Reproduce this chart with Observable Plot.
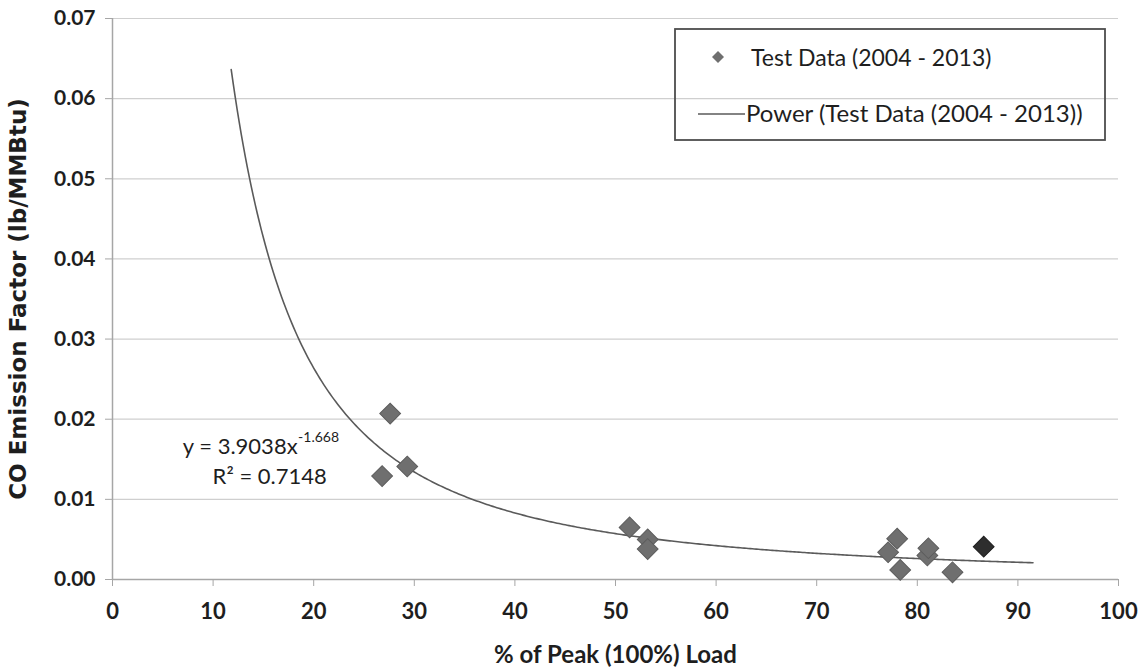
<!DOCTYPE html>
<html>
<head>
<meta charset="utf-8">
<script src="https://cdn.jsdelivr.net/npm/d3@7"></script>
<script src="https://cdn.jsdelivr.net/npm/@observablehq/plot@0.6"></script>
<style>
  body { margin: 0; background: #fff; }
  #chart { position: relative; width: 1146px; height: 671px; }
  svg { font-family: Lato, "Open Sans", sans-serif; }
</style>
</head>
<body>
<div id="chart"></div>
<script>
// Test data: CO emission factor versus percent of peak load
const loadPct  = [26.8, 27.6, 29.3, 51.4, 53.2, 53.2, 77.1, 78.0, 78.3, 81.0, 81.1, 83.5, 86.6];
const emission = [0.0129, 0.0207, 0.0141, 0.0065, 0.0050, 0.0038, 0.0034, 0.0051, 0.0012, 0.0030, 0.0039, 0.0009, 0.0041];
const pointTone = ["test", "test", "test", "test", "test", "test", "test", "test", "test", "test", "test", "test", "latest"];

// Power trendline y = a·x^b as reported on the chart
const fitCoef = 3.9038;
const fitExp = -1.668;
const fitR2 = 0.7148;
const fitRange = [11.8, 91.5];

const xTicks = [0, 10, 20, 30, 40, 50, 60, 70, 80, 90, 100];
const yTicks = [0, 0.01, 0.02, 0.03, 0.04, 0.05, 0.06, 0.07];

const seriesName = "Test Data (2004 - 2013)";
const trendName = "Power (Test Data (2004 - 2013))";
const xTitle = "% of Peak (100%) Load";
const yTitle = "CO Emission Factor (lb/MMBtu)";

const points = loadPct.map((x, i) => ({x, y: emission[i], tone: pointTone[i]}));
const trend = d3.range(fitRange[0], fitRange[1] + 1e-9, 0.2)
  .concat([fitRange[1]])
  .map(x => ({x, y: fitCoef * Math.pow(x, fitExp)}));

const axisGray = "#a6a6a6";
const textColor = "#1e1e1e";
const narrow = "'Liberation Sans Narrow', 'Arial Narrow', Lato, sans-serif";

const plot = Plot.plot({
  width: 1146,
  height: 671,
  marginLeft: 112,
  marginRight: 28,
  marginTop: 18,
  marginBottom: 92,
  style: {fontFamily: "Lato, 'Open Sans', sans-serif", background: "#fff"},
  x: {domain: [0, 100]},
  y: {domain: [0, 0.07]},
  marks: [
    Plot.gridY(yTicks, {stroke: "#cfcfcf", strokeOpacity: 1, strokeWidth: 1.2}),
    Plot.ruleX([0], {stroke: axisGray, strokeWidth: 1.5}),
    Plot.ruleY([0], {stroke: axisGray, strokeWidth: 1.5}),
    Plot.axisX({
      ticks: xTicks, tickSize: 7, tickPadding: 17, stroke: axisGray,
      fill: textColor, fontSize: 22, fontWeight: "bold", label: null
    }),
    Plot.axisY({
      ticks: yTicks, tickFormat: ".2f", tickSize: 7, tickPadding: 10, stroke: axisGray,
      fill: textColor, fontSize: 21, fontWeight: "bold", label: null
    }),
    // Axis titles
    Plot.text([xTitle], {
      text: d => d, frameAnchor: "bottom", dy: 76, lineAnchor: "middle",
      fontSize: 24, fontWeight: "bold", fontFamily: narrow, fill: textColor
    }),
    Plot.text([yTitle], {
      text: d => d, frameAnchor: "left", dx: -94, rotate: -90,
      textAnchor: "middle", lineAnchor: "middle",
      fontSize: 23, fontWeight: "bold", fontFamily: "'DejaVu Sans', sans-serif", fill: textColor
    }),
    Plot.line(trend, {x: "x", y: "y", stroke: "#5a5a5a", strokeWidth: 1.6}),
    Plot.dot(points, {
      x: "x", y: "y", symbol: "square", rotate: 45, r: 8.3,
      fill: d => d.tone === "latest" ? "#2e2e2e" : "#6f6f6f",
      stroke: d => d.tone === "latest" ? "#1f1f1f" : "#5c5c5c", strokeWidth: 1
    }),
    // Trendline equation and R² annotation
    Plot.text([{x: 18.4, y: 0.0166}], {
      x: "x", y: "y", text: () => `y = ${fitCoef}x`, textAnchor: "end",
      fontSize: 22, fill: textColor
    }),
    Plot.text([{x: 18.4, y: 0.0166}], {
      x: "x", y: "y", text: () => `${fitExp}`, textAnchor: "start",
      dy: -9, dx: 0.5, fontSize: 14, fill: textColor
    }),
    Plot.text([{x: 21.3, y: 0.01285}], {
      x: "x", y: "y", text: () => `R² = ${fitR2}`, textAnchor: "end",
      fontSize: 22, fill: textColor
    })
  ]
});

document.getElementById("chart").appendChild(plot);

// Legend box inside the plot area (transparent, gridlines show through)
const svg = d3.select(plot);
const lg = svg.append("g")
  .attr("font-family", "Lato, 'Open Sans', sans-serif")
  .attr("text-anchor", "start")
  .attr("fill", textColor);
lg.append("rect")
  .attr("x", 675).attr("y", 29).attr("width", 430).attr("height", 111)
  .attr("fill", "none").attr("stroke", "#4d4d4d").attr("stroke-width", 1.8);
lg.append("path")
  .attr("d", d3.symbol(d3.symbolSquare, 72)())
  .attr("transform", "translate(718,57) rotate(45)")
  .attr("fill", "#6f6f6f");
lg.append("text")
  .attr("x", 751).attr("y", 58).attr("dy", "0.35em")
  .attr("font-size", 23).text(seriesName);
lg.append("line")
  .attr("x1", 698).attr("x2", 745).attr("y1", 114).attr("y2", 114)
  .attr("stroke", "#5a5a5a").attr("stroke-width", 1.6);
lg.append("text")
  .attr("x", 746).attr("y", 114).attr("dy", "0.35em")
  .attr("font-size", 24).text(trendName);
</script>
</body>
</html>
